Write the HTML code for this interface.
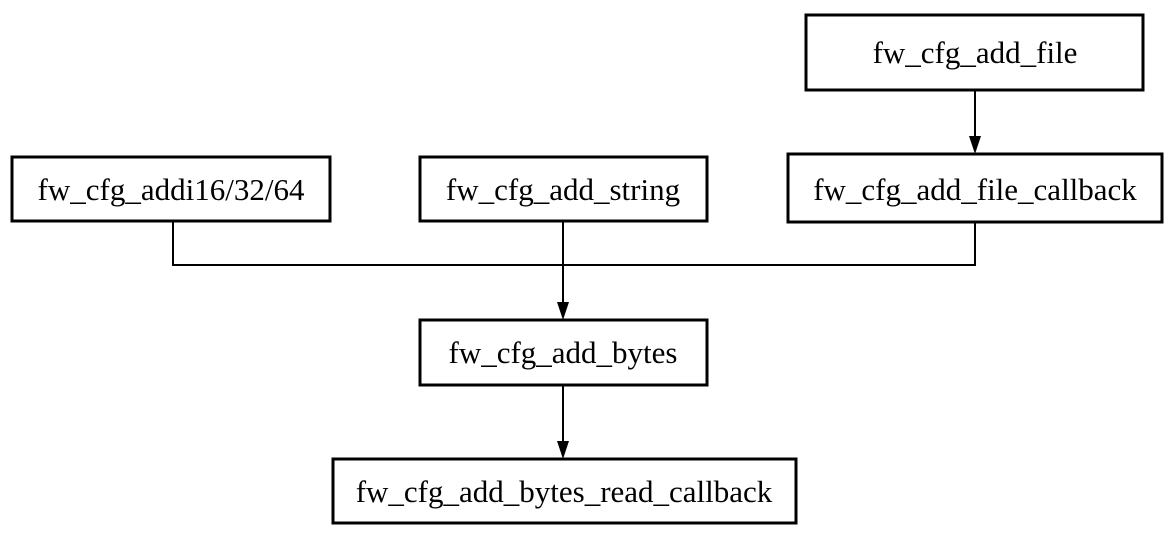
<!DOCTYPE html>
<html><head><style>
body{margin:0;background:#fff;width:1175px;height:534px;overflow:hidden}
</style></head><body>
<svg width="1175" height="534" xmlns="http://www.w3.org/2000/svg" font-family="Liberation Serif, serif" font-size="31">
<g fill="#fff" stroke="#000" stroke-width="3">
<rect x="12" y="157" width="318" height="64"/>
<rect x="420" y="157" width="287" height="64"/>
<rect x="788" y="154" width="374" height="68"/>
<rect x="806" y="15" width="337" height="75"/>
<rect x="420" y="320" width="287" height="65"/>
<rect x="333" y="459" width="463" height="64"/>
</g>
<g stroke="#000" stroke-width="2" fill="none">
<polyline points="173,221 173,265 975,265 975,222"/>
<line x1="563" y1="221" x2="563" y2="305"/>
<line x1="975" y1="90" x2="975" y2="138"/>
<line x1="563" y1="385" x2="563" y2="444"/>
</g>
<g fill="#000">
<polygon points="557,302 569,302 563,320"/>
<polygon points="969,136 981,136 975,154"/>
<polygon points="557,441 569,441 563,459"/>
</g>
<g text-anchor="middle" fill="#000">
<text x="171" y="200">fw_cfg_addi16/32/64</text>
<text x="563" y="200">fw_cfg_add_string</text>
<text x="975" y="200">fw_cfg_add_file_callback</text>
<text x="975" y="63">fw_cfg_add_file</text>
<text x="563" y="363">fw_cfg_add_bytes</text>
<text x="564" y="502">fw_cfg_add_bytes_read_callback</text>
</g>
</svg>
</body></html>
